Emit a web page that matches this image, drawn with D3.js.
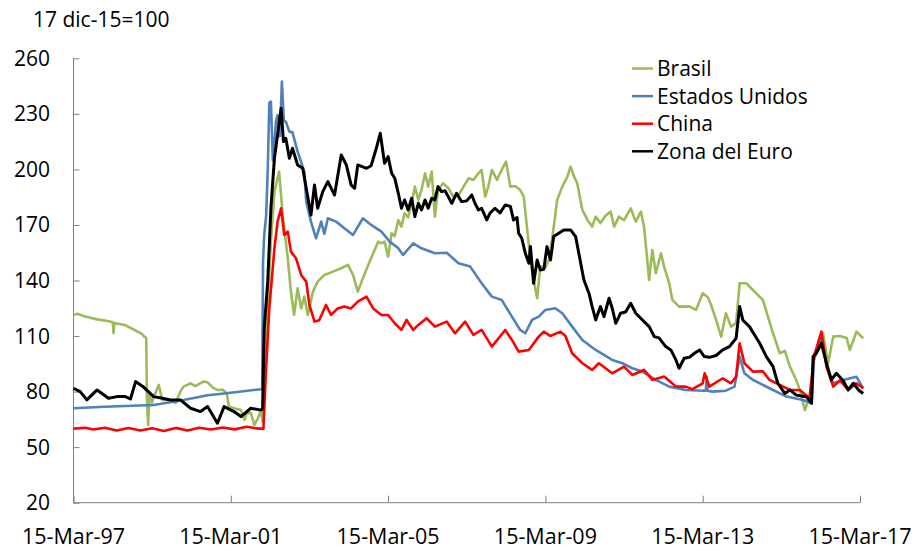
<!DOCTYPE html>
<html lang="es">
<head>
<meta charset="utf-8" />
<title>Tipo de cambio real</title>
<script src="https://d3js.org/d3.v7.min.js"></script>
<style>
  body { margin: 0; background: #fff; }
  text { font-family: "Open Sans", "Lato", sans-serif; fill: #000; }
</style>
</head>
<body>
<div id="my_dataviz"></div>
<script>
// series: [decimal year, index value]
var brasil = [
  [1997.20,121.4],[1997.30,122],[1997.50,120.5],[1997.80,119],[1998.10,118],[1998.20,117.5],
  [1998.22,111.5],[1998.24,117],[1998.50,116],[1998.78,113],[1998.95,111],[1999.00,109.7],
  [1999.05,109],[1999.07,75],[1999.10,62],[1999.13,78],[1999.20,74],[1999.24,77.3],[1999.30,80],
  [1999.37,83.6],[1999.46,75.5],[1999.67,75.5],[1999.80,73.8],[1999.92,80],[2000.00,82.7],
  [2000.18,84.5],[2000.30,83],[2000.50,85.4],[2000.61,85],[2000.75,82],[2000.86,80.9],[2001.00,81],
  [2001.10,79],[2001.15,72],[2001.28,71],[2001.46,70],[2001.55,64.7],[2001.60,68],[2001.71,68.4],
  [2001.80,62],[2001.90,66],[2001.97,70],[2002.01,63.8],[2002.09,107],[2002.22,161],[2002.31,188],
  [2002.43,198.8],[2002.52,175.4],[2002.65,152],[2002.73,134],[2002.81,121.4],[2002.90,135.8],
  [2002.99,124.9],[2003.07,131.3],[2003.16,121.4],[2003.29,134],[2003.41,139.4],[2003.58,143],
  [2003.80,144.8],[2004.01,146.6],[2004.18,148.4],[2004.31,143],[2004.43,134],[2004.56,141.2],
  [2004.73,150.2],[2004.95,161],
  [2005.03,160.1],[2005.11,161],[2005.20,152.9],[2005.29,165.5],[2005.37,164],[2005.46,172.7],
  [2005.54,169.1],[2005.62,176.3],[2005.71,174],[2005.80,181.7],[2005.88,190.7],[2005.97,183.5],
  [2006.05,188.9],[2006.14,197.9],[2006.22,190.7],[2006.31,198.8],[2006.39,174.5],[2006.47,188.9],
  [2006.60,192.5],[2006.73,190],[2006.86,185.3],[2006.99,186],[2007.12,190.7],[2007.25,195.2],
  [2007.37,194.3],[2007.50,197.9],[2007.58,199.7],[2007.67,185.3],[2007.75,190.7],[2007.84,199.7],
  [2007.97,194.3],[2008.09,199.7],[2008.20,204.2],[2008.31,190.7],[2008.43,191],[2008.56,188.9],
  [2008.65,185.3],[2008.73,169.1],[2008.82,151.1],[2008.90,140.3],[2008.99,130.4],[2009.07,147.5],
  [2009.20,147],[2009.29,151.1],[2009.37,162],[2009.50,183.5],[2009.63,190.7],[2009.76,196.1],
  [2009.84,201.5],[2009.93,196.1],[2010.01,192.5],[2010.14,178.1],[2010.27,172.7],[2010.39,169.1],
  [2010.48,174.5],[2010.60,171],[2010.73,175],[2010.86,177.2],[2010.95,169.1],[2011.07,174.5],
  [2011.20,172.5],[2011.37,179],[2011.50,171.8],[2011.63,177.2],[2011.71,169.1],[2011.80,149.3],
  [2011.84,140.3],[2011.92,156.5],[2012.01,143.9],[2012.14,154.7],[2012.22,147.5],[2012.35,138.5],
  [2012.43,129.5],[2012.60,125.9],[2012.86,126],[2013.03,124.1],[2013.20,133.1],[2013.33,131],
  [2013.41,127],[2013.54,118.7],[2013.67,109.7],[2013.79,122.3],[2013.92,115.1],[2014.05,117],
  [2014.14,138.5],[2014.31,138.5],[2014.56,133.1],
  [2014.73,129.5],[2014.86,120.5],[2014.99,111.5],[2015.16,100.7],[2015.29,102],[2015.42,93.5],
  [2015.58,86.3],[2015.67,80.9],[2015.80,70],[2015.92,77.3],[2016.05,100.7],[2016.18,106.1],
  [2016.26,111.5],[2016.39,95.3],[2016.52,109.7],[2016.69,110],[2016.86,109],[2016.94,102.5],
  [2017.11,112.4],[2017.28,108.8]
];

var estadosUnidos = [
  [1997.20,71],[1998.00,71.8],[1999.24,72.8],[2000.00,75.5],[2000.61,78],[2001.03,79],[2001.97,81.3],
  [2002.00,81.8],[2002.02,150],[2002.05,164.6],[2002.10,175],[2002.14,200],[2002.18,236],
  [2002.22,236.6],[2002.27,205],[2002.31,215],[2002.35,226],[2002.39,229.4],[2002.45,218],
  [2002.50,247.4],[2002.55,226],[2002.60,225.8],[2002.69,220.4],[2002.77,220],[2002.90,209.6],
  [2003.07,198.8],[2003.12,182.6],[2003.24,171.8],[2003.37,162.8],[2003.50,171.8],[2003.58,165.2],
  [2003.67,173.6],[2003.88,171.8],[2004.09,168.2],[2004.31,164.6],[2004.56,173.6],[2004.77,170],
  [2005.03,166.4],[2005.24,161],[2005.46,157.4],[2005.58,153.8],[2005.84,160.1],[2006.05,157.4],
  [2006.39,154.7],[2006.69,155],[2006.99,149.3],[2007.29,147.5],[2007.58,138.5],[2007.84,131.3],
  [2008.09,129.5],[2008.35,120.5],[2008.56,113.3],[2008.69,111.5],[2008.86,118.7],[2009.03,120.5],
  [2009.20,124.1],[2009.45,125],[2009.63,122.3],[2009.88,115.1],[2010.14,107.9],[2010.48,102.5],
  [2010.90,97.1],[2011.16,95.3],[2011.41,92.6],[2011.67,90.8],[2012.01,86.3],[2012.35,82.7],
  [2012.77,80.9],[2013.20,80.5],[2013.28,80.5],[2013.30,88],[2013.32,80.5],[2013.45,80],
  [2013.79,80.5],[2014.01,82.7],[2014.14,98.9],[2014.26,89.9],[2014.48,86.3],[2014.90,81.8],
  [2015.33,77.3],[2015.75,75.5],[2015.97,73.7],[2016.03,97],[2016.22,109.7],[2016.35,93.5],
  [2016.52,84.5],[2016.77,86.3],[2017.11,88],[2017.28,81.8]
];

var china = [
  [1997.20,60],[1997.50,60.5],[1997.70,59.5],[1998.00,60.5],[1998.30,59],[1998.60,60.3],[1998.90,59],
  [1999.20,60.2],[1999.50,58.7],[1999.80,60.4],[2000.10,59],[2000.40,60.5],[2000.70,59.5],
  [2001.00,60.6],[2001.30,59.6],[2001.60,61],[2001.90,60],[2002.03,60],[2002.09,89],[2002.18,125],
  [2002.31,157.4],[2002.39,171.8],[2002.48,179],[2002.56,164.6],[2002.65,166.4],[2002.73,155.6],
  [2002.86,152],[2002.99,143],[2003.12,139.4],[2003.20,126.8],[2003.33,117.8],[2003.45,118.5],
  [2003.62,126.8],[2003.75,121.4],[2003.92,124.9],[2004.09,126],[2004.26,124.9],[2004.43,128.6],
  [2004.65,131.3],[2004.82,124.9],[2005.03,121.4],[2005.20,121.4],[2005.37,116.9],[2005.54,113.3],
  [2005.67,118.7],[2005.84,113.3],[2005.97,116],[2006.18,119.6],[2006.39,115.1],[2006.69,117.8],
  [2006.90,111.5],[2007.16,117.8],[2007.37,110.6],[2007.58,113.3],[2007.84,104.3],[2008.18,113.3],
  [2008.35,107.9],[2008.52,101.6],[2008.78,102.5],[2009.03,109.7],[2009.16,112.4],[2009.33,110],
  [2009.58,112.4],[2009.71,110],[2009.88,100.7],[2010.14,95.3],[2010.39,91.7],[2010.56,95.3],
  [2010.90,89.9],[2011.20,93.5],[2011.41,89],[2011.71,91.7],[2011.92,86.3],[2012.22,88.1],
  [2012.52,82.7],[2012.77,82.7],[2012.94,81.3],[2013.20,84.5],[2013.25,89.9],[2013.37,82.7],
  [2013.71,87.2],[2013.92,84.5],[2014.05,88.1],[2014.14,106.1],[2014.26,95.3],[2014.48,90.8],
  [2014.73,91],[2014.90,86.3],[2015.16,83.6],[2015.42,80.9],[2015.67,80.9],[2015.92,76.4],
  [2016.03,98.9],[2016.22,112.4],[2016.35,93.5],[2016.52,82.7],[2016.69,86],[2016.90,80.9],
  [2017.11,84.5],[2017.28,81.8]
];

var zonaEuro = [
  [1997.20,81.8],[1997.37,80],[1997.54,75.5],[1997.80,80.9],[1998.09,76.4],[1998.31,77.3],
  [1998.52,77.3],[1998.65,76],[1998.78,85.4],[1998.99,82.3],[1999.24,77.3],[1999.46,76.4],
  [1999.67,75.5],[1999.92,75.5],[2000.18,71],[2000.43,69.2],[2000.61,71.9],[2000.86,62.9],
  [2001.03,71.9],[2001.28,69.2],[2001.46,66.5],[2001.71,71],[2001.97,70],[2002.01,71],
  [2002.05,114.2],[2002.14,139.4],[2002.22,179],[2002.31,206],[2002.39,218.6],[2002.48,233],
  [2002.54,215],[2002.60,216.8],[2002.69,206],[2002.77,211.4],[2002.90,202.4],[2003.03,200.6],
  [2003.12,189.8],[2003.24,175.4],[2003.33,191.6],[2003.41,179],[2003.54,188],[2003.67,193.4],
  [2003.84,186.2],[2004.01,207.8],[2004.14,202.4],[2004.26,191.6],[2004.35,189.8],[2004.43,202.4],
  [2004.65,200.6],[2004.77,202],[2004.90,211.4],[2005.00,219.5],
  [2005.11,203.3],[2005.20,206.9],[2005.29,197.9],[2005.37,195.2],[2005.46,187.1],[2005.54,179],
  [2005.62,183.5],[2005.71,178.1],[2005.80,184.4],[2005.88,174.5],[2005.97,181.7],[2006.05,178.1],
  [2006.14,183.5],[2006.22,179],[2006.31,184.4],[2006.39,183.5],[2006.47,190.7],[2006.56,188],
  [2006.65,188.5],[2006.73,185.3],[2006.82,181.7],[2006.94,187.1],[2007.07,182.6],[2007.20,183],
  [2007.33,186.2],[2007.41,181.7],[2007.50,178.1],[2007.58,179],[2007.71,172.7],[2007.79,176.3],
  [2007.92,179],[2008.05,176.5],[2008.18,180.8],[2008.31,180],[2008.39,172.7],[2008.48,174],
  [2008.52,165.5],[2008.60,162.8],[2008.69,154.7],[2008.78,149.3],[2008.82,158.3],[2008.90,138.5],
  [2008.99,151.1],[2009.07,145.7],[2009.16,146],[2009.24,158.3],[2009.33,151.1],[2009.41,163.7],
  [2009.54,165.5],[2009.67,167.3],[2009.84,167.3],[2009.97,163.7],[2010.05,154.7],[2010.18,140.3],
  [2010.31,133],[2010.39,125.9],[2010.48,118.7],[2010.60,125.9],[2010.69,120.5],[2010.82,130.4],
  [2010.90,125],[2010.99,116.9],[2011.11,122.3],[2011.24,123],[2011.37,127.7],[2011.50,122.3],
  [2011.67,118.7],[2011.84,115.1],[2011.97,109.7],[2012.09,109],[2012.26,104.3],[2012.39,102.5],
  [2012.52,97.1],[2012.60,92.6],[2012.73,98],[2012.86,98.5],[2012.99,100.7],[2013.12,102.5],
  [2013.24,98.9],[2013.37,98.5],[2013.54,99.5],[2013.71,102.5],[2013.88,104.3],[2014.05,108.8],
  [2014.14,125.9],[2014.22,118.7],
  [2014.39,115.1],[2014.65,106.1],[2014.82,98.9],[2014.99,93.5],[2015.11,84.5],[2015.29,79],
  [2015.42,80.9],[2015.58,78.1],[2015.84,77.2],[2015.97,73.7],[2016.01,98.9],[2016.09,100.7],
  [2016.22,106.1],[2016.35,95.3],[2016.47,86.3],[2016.60,89.9],[2016.77,86],[2016.90,80.9],
  [2017.03,84.5],[2017.16,80.9],[2017.28,79]
];

var seriesNames = ["Brasil", "Estados Unidos", "China", "Zona del Euro"];
var seriesColors = ["#9BBB59", "#4F81BD", "#FF0000", "#000000"];
var yTicks = [20, 50, 80, 110, 140, 170, 200, 230, 260];
var xTickYears = [1997, 2001, 2005, 2009, 2013, 2017];
var unitLabel = "17 dic-15=100";

// decimal year -> Date
function toDate(y) {
  var Y = Math.floor(y);
  var s = new Date(Y, 0, 1), e = new Date(Y + 1, 0, 1);
  return new Date(+s + (y - Y) * (e - s));
}

var width = 920, height = 551;
var svg = d3.select("#my_dataviz")
  .append("svg")
  .attr("width", width)
  .attr("height", height);

var x = d3.scaleTime()
  .domain([new Date(1997, 2, 15), new Date(2017, 2, 15)])
  .range([73.5, 860]);

var y = d3.scaleLinear()
  .domain([20, 260])
  .range([502.7, 58.3]);

// unit label
svg.append("text")
  .attr("x", 33)
  .attr("y", 27)
  .style("font-size", "21px")
  .text(unitLabel);

// y axis, ticks pointing inside
var yAxis = svg.append("g")
  .attr("transform", "translate(" + x.range()[0] + ",0)")
  .call(d3.axisRight(y).tickValues(yTicks).tickSize(6).tickFormat(""));
yAxis.selectAll("line, path").attr("stroke", "#7f7f7f");
yAxis.select(".domain").attr("d", "M0," + y(20) + "V" + y(260));

svg.selectAll(".ylab")
  .data(yTicks)
  .enter()
  .append("text")
  .attr("class", "ylab")
  .attr("x", 50)
  .attr("y", function(d) { return y(d) + 7.5; })
  .attr("text-anchor", "end")
  .style("font-size", "21px")
  .text(function(d) { return d; });

// x axis
var xTickDates = xTickYears.map(function(d) { return new Date(d, 2, 15); });
var xAxis = svg.append("g")
  .attr("transform", "translate(0," + y(20) + ")")
  .call(d3.axisTop(x).tickValues(xTickDates).tickSize(7).tickFormat(""));
xAxis.selectAll("line, path").attr("stroke", "#7f7f7f");
xAxis.select(".domain").attr("d", "M" + x.range()[0] + ",0H" + x.range()[1]);

svg.selectAll(".xlab")
  .data(xTickDates)
  .enter()
  .append("text")
  .attr("class", "xlab")
  .attr("x", function(d) { return x(d); })
  .attr("y", 544)
  .attr("text-anchor", "middle")
  .style("font-size", "21.5px")
  .text(function(d) { return d3.timeFormat("%d-%b-%y")(d); });

// lines
var line = d3.line()
  .x(function(d) { return x(toDate(d[0])); })
  .y(function(d) { return y(d[1]); });

var allSeries = [brasil, estadosUnidos, china, zonaEuro];
svg.selectAll(".serie")
  .data(allSeries)
  .enter()
  .append("path")
  .attr("class", "serie")
  .attr("fill", "none")
  .attr("stroke", function(d, i) { return seriesColors[i]; })
  .attr("stroke-width", function(d, i) { return i == 3 ? 3 : 2.6; })
  .attr("stroke-linejoin", "round")
  .attr("d", line);

// legend
var legend = svg.selectAll(".leg")
  .data(seriesNames)
  .enter()
  .append("g")
  .attr("class", "leg")
  .attr("transform", function(d, i) { return "translate(632," + (68.5 + i * 27.6) + ")"; });
legend.append("line")
  .attr("x1", 0).attr("x2", 21)
  .attr("stroke", function(d, i) { return seriesColors[i]; })
  .attr("stroke-width", 2.5);
legend.append("text")
  .attr("x", 25)
  .attr("y", 7.5)
  .style("font-size", "21px")
  .text(function(d) { return d; });
</script>
</body>
</html>
